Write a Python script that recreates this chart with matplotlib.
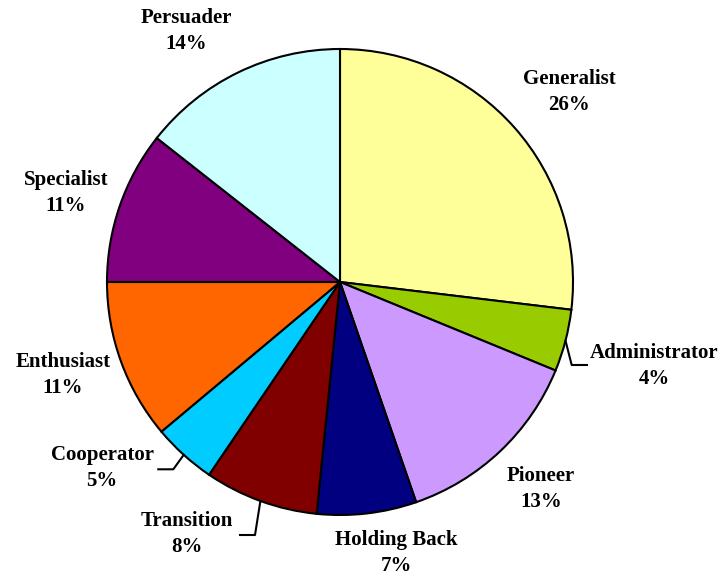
import numpy as np
import matplotlib
matplotlib.use("Agg")
import matplotlib.pyplot as plt

categories = ["Generalist", "Administrator", "Pioneer", "Holding Back", "Transition",
              "Cooperator", "Enthusiast", "Specialist", "Persuader"]
values = [26.9, 4.3, 13.5, 6.9, 7.9, 4.4, 11.1, 10.6, 14.4]
pct_labels = [26, 4, 13, 7, 8, 5, 11, 11, 14]
colors = ["#FFFF99", "#99CC00", "#CC99FF", "#000080", "#800000",
          "#00CCFF", "#FF6600", "#800080", "#CCFFFF"]

# label centres in pixel coords (x, y from top)
label_pos = {
    "Generalist": (569, 92),
    "Administrator": (654, 366),
    "Pioneer": (541, 489),
    "Holding Back": (396, 553),
    "Transition": (187, 534),
    "Cooperator": (102, 468),
    "Enthusiast": (63, 375),
    "Specialist": (66, 193),
    "Persuader": (186, 31),
}
# elbow leader lines: (elbow point, end point) in pixel coords
leaders = {
    "Administrator": [(571.7, 365), (587, 365)],
    "Cooperator": [(173.3, 469.3), (158.3, 469.3)],
    "Transition": [(255, 535), (240, 535)],
}

W, H = 721, 576
fig = plt.figure(figsize=(W / 100, H / 100), dpi=100)
ax = fig.add_axes([0, 0, 1, 1])

cx, cy, r = 340, H - 282, 233
wedges, _ = ax.pie(values, colors=colors, startangle=90, counterclock=False,
                   center=(cx, cy), radius=r, frame=True,
                   wedgeprops=dict(edgecolor="black", linewidth=1.5))
ax.set_xlim(0, W)
ax.set_ylim(0, H)
ax.set_axis_off()

font = dict(family="Liberation Serif", weight="bold", size=15)
for name, p, w in zip(categories, pct_labels, wedges):
    x, y = label_pos[name]
    ax.text(x, H - y, f"{name}\n{p}%", ha="center", va="center",
            multialignment="center", linespacing=1.45, **font)
    if name in leaders:
        mid = np.deg2rad((w.theta1 + w.theta2) / 2)
        pts = [(cx + r * np.cos(mid), cy + r * np.sin(mid))]
        pts += [(px, H - py) for px, py in leaders[name]]
        xs, ys = zip(*pts)
        ax.plot(xs, ys, color="black", linewidth=1.5)

fig.savefig("out.png", dpi=100)
